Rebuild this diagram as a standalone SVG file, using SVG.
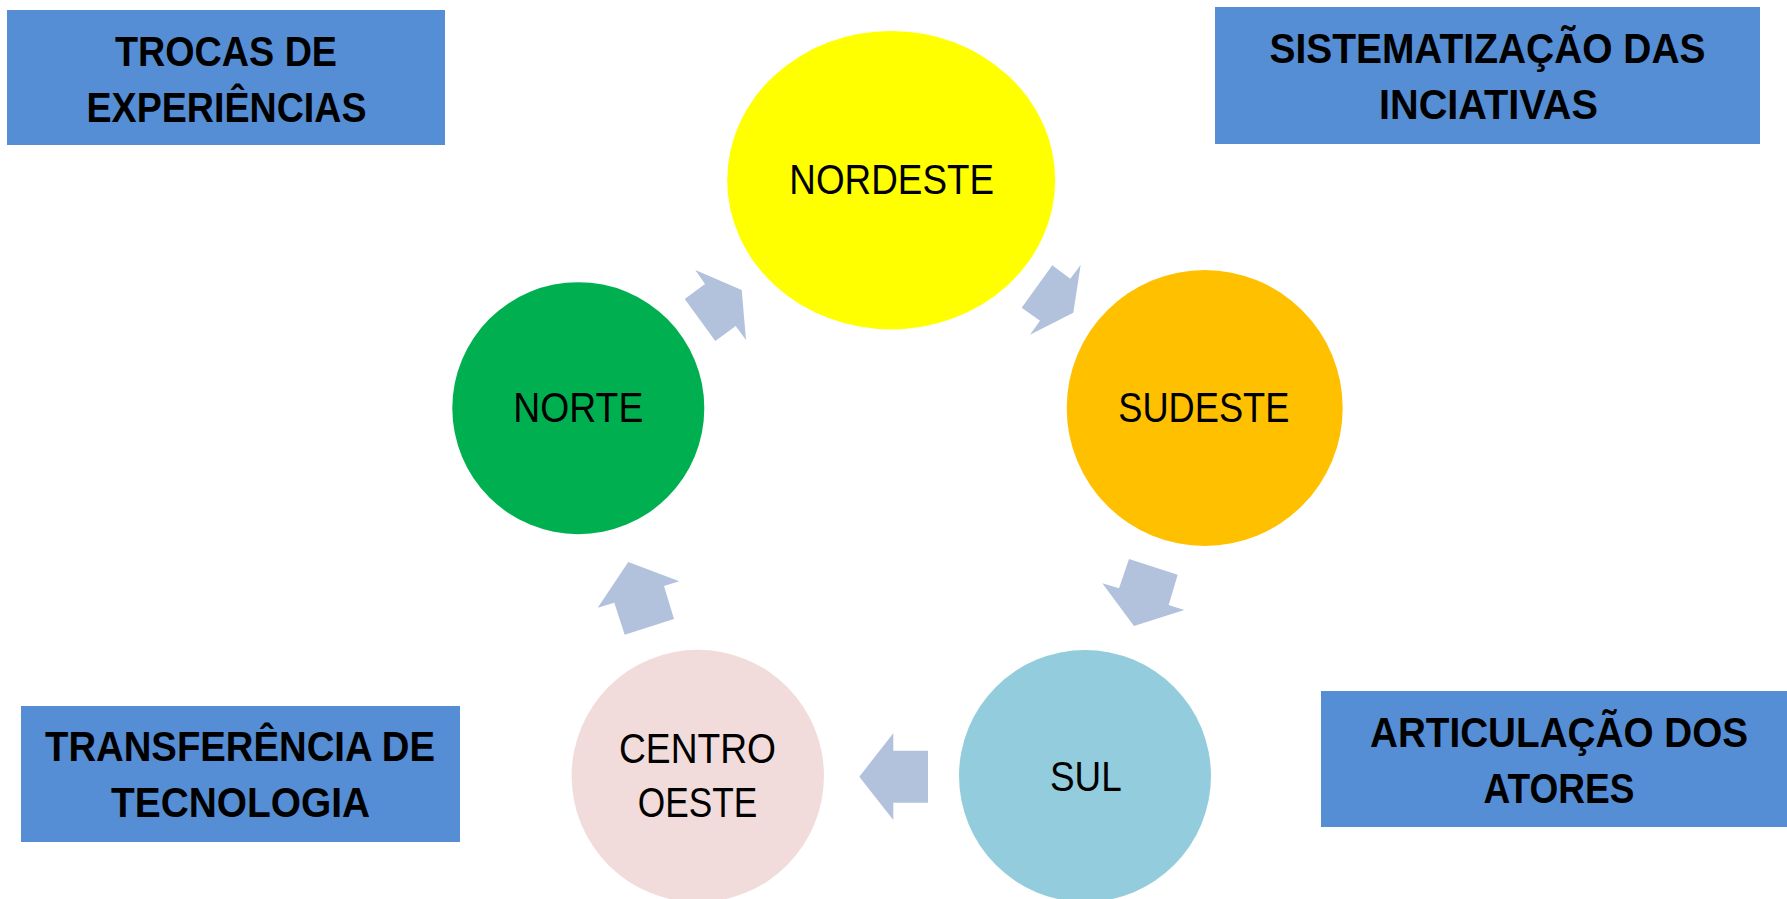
<svg xmlns="http://www.w3.org/2000/svg" width="1787" height="899" viewBox="0 0 1787 899">
<style>
.box{fill:#558ED5;}
.bt{font-family:"Liberation Sans",Arial,sans-serif;font-weight:bold;font-size:43px;fill:#000;text-anchor:middle;}
.nt{font-family:"Liberation Sans",Arial,sans-serif;font-size:42px;fill:#000;text-anchor:middle;}
.arr{fill:#B2C2DD;}
</style>
<rect width="1787" height="899" fill="#FFFFFF"/>
<g id="box-trocas">
<rect class="box" x="7" y="10" width="438" height="135"/>
<text class="bt" x="226" y="65.5" textLength="222" lengthAdjust="spacingAndGlyphs">TROCAS DE</text>
<text class="bt" x="226.5" y="121.5" textLength="280" lengthAdjust="spacingAndGlyphs">EXPERIÊNCIAS</text>
</g>
<g id="box-sistematizacao">
<rect class="box" x="1215" y="7" width="545" height="137"/>
<text class="bt" x="1487.5" y="62.5" textLength="436" lengthAdjust="spacingAndGlyphs">SISTEMATIZAÇÃO DAS</text>
<text class="bt" x="1488.5" y="118.5" textLength="219" lengthAdjust="spacingAndGlyphs">INCIATIVAS</text>
</g>
<g id="box-transferencia">
<rect class="box" x="21" y="706" width="439" height="136"/>
<text class="bt" x="240" y="761" textLength="390" lengthAdjust="spacingAndGlyphs">TRANSFERÊNCIA DE</text>
<text class="bt" x="240.5" y="817" textLength="259" lengthAdjust="spacingAndGlyphs">TECNOLOGIA</text>
</g>
<g id="box-articulacao">
<rect class="box" x="1321" y="691" width="466" height="136"/>
<text class="bt" x="1559" y="746.5" textLength="378" lengthAdjust="spacingAndGlyphs">ARTICULAÇÃO DOS</text>
<text class="bt" x="1559" y="802.5" textLength="151" lengthAdjust="spacingAndGlyphs">ATORES</text>
</g>
<g id="node-nordeste">
<ellipse cx="891.2" cy="180.2" rx="164" ry="149.2" fill="#FFFF00"/>
<text class="nt" x="891.7" y="194" textLength="204.7" lengthAdjust="spacingAndGlyphs">NORDESTE</text>
</g>
<g id="node-norte">
<circle cx="578.3" cy="408.2" r="126" fill="#00B050"/>
<text class="nt" x="578.3" y="422.3" textLength="130" lengthAdjust="spacingAndGlyphs">NORTE</text>
</g>
<g id="node-sudeste">
<circle cx="1204.7" cy="408" r="138" fill="#FFC000"/>
<text class="nt" x="1203.8" y="422.3" textLength="171" lengthAdjust="spacingAndGlyphs">SUDESTE</text>
</g>
<g id="node-sul">
<circle cx="1085" cy="776" r="126" fill="#93CDDD"/>
<text class="nt" x="1085.8" y="790.7" textLength="71.7" lengthAdjust="spacingAndGlyphs">SUL</text>
</g>
<g id="node-centro-oeste">
<circle cx="697.8" cy="776" r="126.2" fill="#F2DCDB"/>
<text class="nt" x="697.5" y="763.3" textLength="157" lengthAdjust="spacingAndGlyphs">CENTRO</text>
<text class="nt" x="697.5" y="816.7" textLength="119.6" lengthAdjust="spacingAndGlyphs">OESTE</text>
</g>
<g id="connectors">
<polygon class="arr" points="695.3,270 741.7,290 746,340 735.7,326 715.3,341 684.7,299 705,284"/>
<polygon class="arr" points="1052.3,265.3 1070.3,278.7 1080.7,264.7 1073.3,312.7 1030,334.7 1040,320.7 1021.7,307.7"/>
<polygon class="arr" points="1129,559 1177.7,574.7 1168.7,605 1184.3,610 1134,626 1102.3,583.3 1119,588.3"/>
<polygon class="arr" points="859.3,776.7 893.3,733.3 893.3,750.7 928,750.7 928,802.7 893.3,802.7 893.3,820"/>
<polygon class="arr" points="628.3,562 679.3,581.3 664,586 674,619 624.7,634.7 614.3,602.7 597.7,607.7"/>
</g>
</svg>
